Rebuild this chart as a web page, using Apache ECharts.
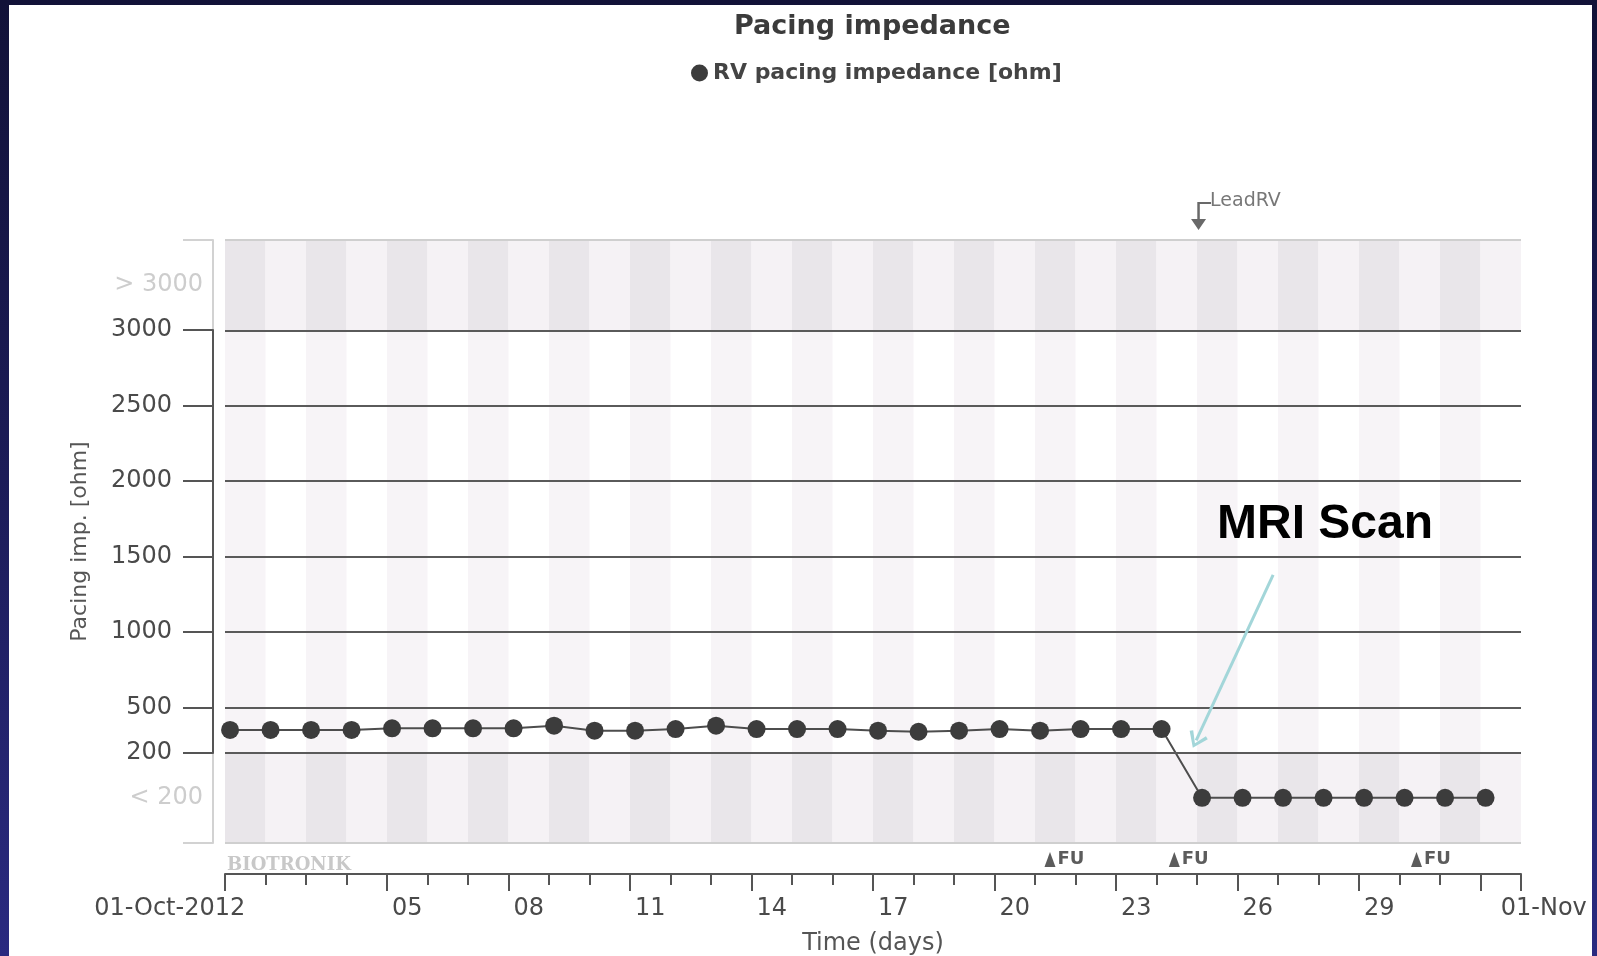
<!DOCTYPE html>
<html>
<head>
<meta charset="utf-8">
<script src="https://cdn.jsdelivr.net/npm/echarts@6/dist/echarts.min.js"></script>
<style>
  html, body { margin: 0; padding: 0; }
  body {
    width: 1597px; height: 956px; overflow: hidden; position: relative;
    background: linear-gradient(180deg, #121238 0%, #1c1c58 50%, #2a2a80 100%);
  }
  #paper { position: absolute; left: 9px; top: 5px; width: 1583px; height: 951px; background: #fff; }
  #chart { position: absolute; left: 0; top: 0; width: 1592px; height: 956px; }
</style>
</head>
<body>
<div id="paper"></div>
<div id="chart"></div>
<script>
// days since 01-Oct-2012 00:00 of each daily reading
const measDay = [0, 1, 2, 3, 4, 5, 6, 7, 8, 9, 10, 11, 12, 13, 14, 15,
                 16, 17, 18, 19, 20, 21, 22, 23, 24, 25, 26, 27, 28, 29, 30, 31];
const measHour = 3; // readings are taken early in the day
// RV pacing impedance [ohm]; '<200' = below the measurable range
const impedance = [350, 350, 350, 350, 361, 361, 361, 361, 378, 345, 345, 356, 378, 356, 356, 356,
                   345, 338, 345, 356, 345, 356, 356, 356,
                   '<200', '<200', '<200', '<200', '<200', '<200', '<200', '<200'];

// y axis: 200..3000 is linear, the out-of-range bands sit below and above
const yTicks = [200, 500, 1000, 1500, 2000, 2500, 3000];
const yMin = -400, yMax = 3600;
const lowBandY = -100, highBandY = 3300;

// x axis (days), labels sit in the middle of their day
const dayCount = 32;
const majorTickDays = [0, 4, 7, 10, 13, 16, 19, 22, 25, 28, 31, 32];
const xLabelDays = [4.5, 7.5, 10.5, 13.5, 16.5, 19.5, 22.5, 25.5, 28.5];
const xLabels = ['05', '08', '11', '14', '17', '20', '23', '26', '29'];
const firstLabel = '01-Oct-2012', lastLabel = '01-Nov';

// events
const fuDays = [20.37, 23.44, 29.42];
const leadRvDay = 24.1;
const mriArrow = { from: [25.88, 1378], to: [23.98, 280] };

const FONT = 'DejaVu Sans';
const allDays = [];
for (let d = 0; d <= dayCount; d++) allDays.push(d);

const seriesData = impedance.map((v, i) => [measDay[i] + measHour / 24, v === '<200' ? lowBandY : v]);

// alternating day bands
const bands = [];
for (let d = 0; d < dayCount; d++) {
  const even = d % 2 === 0;
  const outer = even ? '#e9e6ea' : '#f5f2f5';
  bands.push([{ xAxis: d, yAxis: 3000, itemStyle: { color: outer } }, { xAxis: d + 1, yAxis: yMax }]);
  bands.push([{ xAxis: d, yAxis: yMin, itemStyle: { color: outer } }, { xAxis: d + 1, yAxis: 200 }]);
  if (even) bands.push([{ xAxis: d, yAxis: 200, itemStyle: { color: '#f7f4f7' } }, { xAxis: d + 1, yAxis: 3000 }]);
}

const hLines = yTicks.map(v => ({ yAxis: v, lineStyle: { color: '#5a5a5a', width: 2, type: 'solid' } }));
hLines.push({ yAxis: yMin, lineStyle: { color: '#cfcfcf', width: 2, type: 'solid' } });
hLines.push({ yAxis: yMax, lineStyle: { color: '#cfcfcf', width: 2, type: 'solid' } });
hLines.push([
  { coord: mriArrow.from, symbol: 'none' },
  { coord: mriArrow.to, symbol: 'path://M10,0 L20,14 L17,16 L10,5 L3,16 L0,14 Z', symbolSize: [20, 16],
    lineStyle: { color: '#a3d6d9', width: 3, type: 'solid' } }
]);

const chart = echarts.init(document.getElementById('chart'));
const option = {
  animation: false,
  textStyle: { fontFamily: FONT },
  title: [
    { text: 'Pacing impedance', left: 729, top: 8,
      textStyle: { fontFamily: FONT, fontSize: 27, fontWeight: 'bold', color: '#3b3b3b' } },
    { text: 'MRI Scan', left: 1212, top: 496,
      textStyle: { fontFamily: 'Liberation Sans', fontSize: 48, fontWeight: 'bold', color: '#000' } },
    { text: 'BIOTRONIK', left: 222, top: 851,
      textStyle: { fontFamily: 'DejaVu Serif', fontSize: 18, fontWeight: 'bold', color: '#c8c8c8' } }
  ],
  legend: {
    data: ['RV pacing impedance [ohm]'],
    left: 686, top: 57,
    icon: 'circle', itemWidth: 17, itemHeight: 17, itemGap: 6,
    textStyle: { fontFamily: FONT, fontSize: 22, fontWeight: 'bold', color: '#444' }
  },
  grid: [
    { left: 225, top: 240, width: 1296, height: 603, outerBoundsMode: 'none' },
    { left: 225, top: 330, width: 1296, height: 423, outerBoundsMode: 'none' },
    { left: 225, top: 845, width: 1296, height: 29, outerBoundsMode: 'none' }
  ],
  xAxis: [
    { // day ticks + middle labels + axis line
      type: 'value', gridIndex: 0, min: 0, max: dayCount, position: 'bottom', offset: 31,
      name: 'Time (days)', nameLocation: 'middle', nameGap: 58,
      nameTextStyle: { fontFamily: FONT, fontSize: 24, color: '#555' },
      axisLine: { show: true, onZero: false, lineStyle: { color: '#555', width: 2 } },
      axisTick: { show: true, length: 11, customValues: allDays, lineStyle: { color: '#555', width: 2 } },
      axisLabel: { customValues: xLabelDays, margin: 23, fontFamily: FONT, fontSize: 24, color: '#4a4a4a',
        formatter: v => xLabels[xLabelDays.indexOf(v)] || '' },
      splitLine: { show: false }
    },
    { // major ticks + first label
      type: 'value', gridIndex: 0, min: 0, max: dayCount, position: 'bottom', offset: 31,
      axisLine: { show: false, onZero: false },
      axisTick: { show: true, length: 17, customValues: majorTickDays, lineStyle: { color: '#555', width: 2 } },
      axisLabel: { customValues: [0.5], margin: 23, align: 'right', fontFamily: FONT, fontSize: 24, color: '#4a4a4a',
        formatter: () => firstLabel },
      splitLine: { show: false }
    },
    { // last label
      type: 'value', gridIndex: 0, min: 0, max: dayCount, position: 'bottom', offset: 31,
      axisLine: { show: false, onZero: false }, axisTick: { show: false },
      axisLabel: { customValues: [31.5], margin: 23, align: 'left', fontFamily: FONT, fontSize: 24, color: '#4a4a4a',
        formatter: () => lastLabel },
      splitLine: { show: false }
    },
    { type: 'value', gridIndex: 1, min: 0, max: dayCount, show: false },
    { type: 'value', gridIndex: 2, min: 0, max: dayCount, show: false }
  ],
  yAxis: [
    { // full range, light out-of-range parts
      type: 'value', gridIndex: 0, min: yMin, max: yMax, offset: 12,
      name: 'Pacing imp. [ohm]', nameLocation: 'middle', nameGap: 122,
      nameTextStyle: { fontFamily: FONT, fontSize: 22, color: '#555' },
      axisLine: { show: true, onZero: false, lineStyle: { color: '#d2d2d2', width: 2 } },
      axisTick: { show: true, length: 30, customValues: [yMin, yMax], lineStyle: { color: '#d2d2d2', width: 2 } },
      axisLabel: { customValues: [lowBandY, highBandY], margin: 10, fontFamily: FONT, fontSize: 24, color: '#cdcdcd',
        formatter: v => (v === lowBandY ? '< 200' : '> 3000') },
      splitLine: { show: false }
    },
    { // linear part 200..3000
      type: 'value', gridIndex: 1, min: 200, max: 3000, offset: 12, z: 3,
      axisLine: { show: true, onZero: false, lineStyle: { color: '#555', width: 2 } },
      axisTick: { show: true, length: 30, customValues: yTicks, lineStyle: { color: '#555', width: 2 } },
      axisLabel: { customValues: yTicks, margin: 41, fontFamily: FONT, fontSize: 24, color: '#4a4a4a',
        formatter: v => String(v) },
      splitLine: { show: false }
    },
    { type: 'value', gridIndex: 2, min: 0, max: 1, show: false }
  ],
  series: [
    {
      name: 'backdrop', type: 'scatter', xAxisIndex: 0, yAxisIndex: 0, data: [], silent: true, z: 1,
      markArea: { silent: true, data: bands },
      markLine: { silent: true, symbol: ['none', 'none'], label: { show: false }, data: hLines }
    },
    {
      name: 'RV pacing impedance [ohm]', type: 'line', xAxisIndex: 0, yAxisIndex: 0, z: 4,
      data: seriesData,
      symbol: 'circle', symbolSize: 18, showAllSymbol: true,
      itemStyle: { color: '#3c3c3c' },
      lineStyle: { color: '#4d4d4d', width: 2 }
    },
    {
      name: 'LeadRV', type: 'scatter', xAxisIndex: 0, yAxisIndex: 0, clip: false, z: 4,
      data: [[leadRvDay, yMax]],
      symbol: 'path://M9,0 L20,0 L20,2 L11,2 L11,17 L16,17 L10,28 L4,17 L9,17 Z',
      symbolSize: [20, 28], symbolOffset: [0, -24],
      itemStyle: { color: '#444' },
      label: { show: true, formatter: 'LeadRV', position: [19, -1], align: 'left', verticalAlign: 'middle',
        fontFamily: FONT, fontSize: 19, color: '#555' }
    },
    {
      name: 'FU', type: 'scatter', xAxisIndex: 4, yAxisIndex: 2, clip: false, z: 4,
      data: fuDays.map(d => [d, 0.5]),
      symbol: 'triangle', symbolSize: [11, 15],
      itemStyle: { color: '#333' },
      label: { show: true, formatter: 'FU', position: 'right', distance: 2,
        fontFamily: FONT, fontSize: 18, fontWeight: 'bold', color: '#333' }
    }
  ]
};
chart.setOption(option);
</script>
</body>
</html>
